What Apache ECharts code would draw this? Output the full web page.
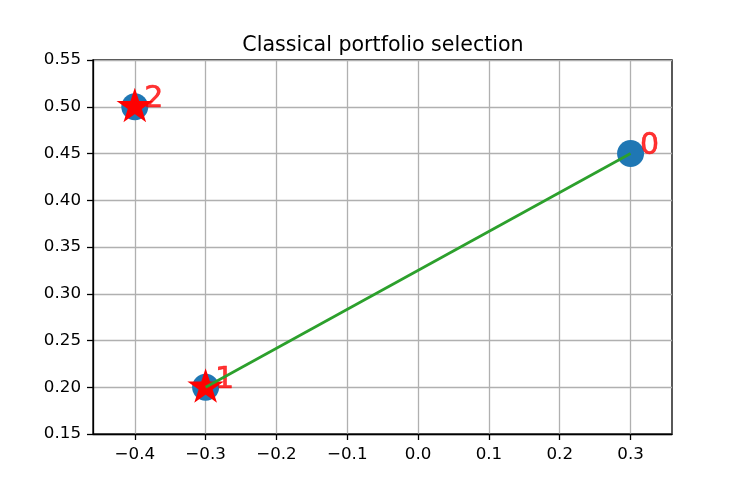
<!DOCTYPE html>
<html>
<head>
<meta charset="utf-8">
<script src="https://cdn.jsdelivr.net/npm/echarts@6/dist/echarts.min.js"></script>
<style>
  html, body { margin: 0; padding: 0; background: #fff; }
  #chart { width: 747px; height: 498px; }
</style>
</head>
<body>
<div id="chart"></div>
<script>
// portfolio points
const pointX = [0.3, -0.3, -0.4];
const pointY = [0.45, 0.2, 0.5];
const pointLabels = ['0', '1', '2'];
// points marked with a star
const starIdx = [1, 2];
// line from point 1 to point 0
const lineIdx = [1, 0];
// tick labels
const xTicks = [-0.4, -0.3, -0.2, -0.1, 0.0, 0.1, 0.2, 0.3];
const yTicks = [0.15, 0.20, 0.25, 0.30, 0.35, 0.40, 0.45, 0.50, 0.55];

const FONT = 'DejaVu Sans';
// matplotlib like star '*'
const starPath = 'path://M0,-1 L0.2245,-0.309 L0.951,-0.309 L0.363,0.118 L0.588,0.809 L0,0.382 L-0.588,0.809 L-0.363,0.118 L-0.951,-0.309 L-0.2245,-0.309 Z';

const pts = pointX.map((x, i) => [x, pointY[i]]);

const chart = echarts.init(document.getElementById('chart'));
const option = {
  animation: false,
  backgroundColor: '#fff',
  title: {
    text: 'Classical portfolio selection',
    left: 378,
    textAlign: 'center',
    top: 30,
    textStyle: { fontFamily: FONT, fontSize: 20.6, fontWeight: 'normal', color: '#000' }
  },
  grid: {
    left: 93, right: 75, top: 60, bottom: 64,
    show: true,
    borderColor: '#000',
    borderWidth: 1.3
  },
  xAxis: {
    type: 'value',
    min: -0.459,
    max: 0.3585,
    axisLine: { show: true, onZero: false, lineStyle: { color: '#000', width: 1.3 } },
    axisTick: { show: true, length: 6, customValues: xTicks, lineStyle: { color: '#000', width: 1.3 } },
    axisLabel: {
      customValues: xTicks,
      margin: 12,
      color: '#000',
      fontFamily: FONT,
      fontSize: 16.7,
      formatter: v => (v < -1e-9 ? '\u2212' + Math.abs(v).toFixed(1) : Math.abs(v).toFixed(1))
    },
    splitLine: { show: true, lineStyle: { color: '#b0b0b0', width: 1.3 } }
  },
  yAxis: {
    type: 'value',
    min: 0.15,
    max: 0.55,
    axisLine: { show: true, onZero: false, lineStyle: { color: '#000', width: 1.3 } },
    axisTick: { show: true, length: 6, customValues: yTicks, lineStyle: { color: '#000', width: 1.3 } },
    axisLabel: {
      customValues: yTicks,
      margin: 12,
      color: '#000',
      fontFamily: FONT,
      fontSize: 16.7,
      formatter: v => v.toFixed(2)
    },
    splitLine: { show: true, lineStyle: { color: '#b0b0b0', width: 1.3 } }
  },
  series: [
    {
      type: 'scatter',
      data: pts,
      symbol: 'circle',
      symbolSize: 27,
      itemStyle: { color: '#1f77b4', opacity: 1 }
    },
    {
      type: 'scatter',
      data: starIdx.map(i => pts[i]),
      symbol: starPath,
      symbolSize: [32, 30],
      symbolOffset: [0, -1.5],
      itemStyle: { color: '#ff0000', borderColor: '#ff0000', borderWidth: 1.5, opacity: 1 }
    },
    {
      type: 'line',
      data: lineIdx.map(i => pts[i]),
      showSymbol: false,
      lineStyle: { color: '#2ca02c', width: 2.7 }
    },
    {
      type: 'scatter',
      data: pts.map((p, i) => ({ value: p, name: pointLabels[i] })),
      symbolSize: 1,
      itemStyle: { color: 'rgba(0,0,0,0)' },
      label: {
        show: true,
        position: [10, -22],
        formatter: p => p.name,
        color: '#ff0000',
        textBorderColor: '#ff0000',
        textBorderWidth: 0.6,
        fontFamily: FONT,
        fontSize: 30
      }
    }
  ]
};
chart.setOption(option);
</script>
</body>
</html>
